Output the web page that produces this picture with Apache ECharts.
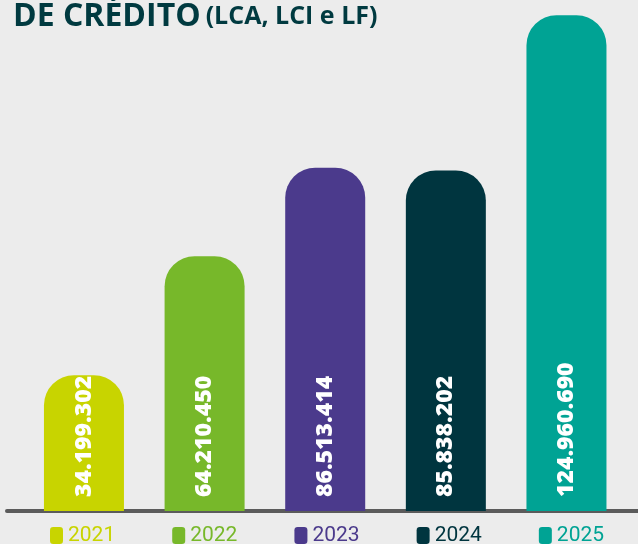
<!DOCTYPE html>
<html>
<head>
<meta charset="utf-8">
<script src="https://cdn.jsdelivr.net/npm/echarts@6/dist/echarts.min.js"></script>
<style>
  html, body { margin: 0; padding: 0; background: #ececec; }
  #chart { width: 638px; height: 544px; }
</style>
</head>
<body>
<div id="chart"></div>
<script>
// dados
const years = ["2021", "2022", "2023", "2024", "2025"];
const values = [34199302, 64210450, 86513414, 85838202, 124960690];
const colors = ["#c8d400", "#77b82a", "#4b3a8c", "#00353f", "#00a394"];

const chart = echarts.init(document.getElementById("chart"));

// formato brasileiro: 34.199.302
const fmt = (v) => String(v).replace(/\B(?=(\d{3})+(?!\d))/g, ".");

// uma série por ano para ter legenda colorida
const series = years.map((y, i) => ({
  name: y,
  type: "bar",
  stack: "all",
  barWidth: 80,
  data: [[i, values[i]]],
  itemStyle: {
    color: colors[i],
    borderRadius: [30, 30, 0, 0],
  },
  label: {
    show: true,
    position: "insideBottom",
    rotate: 90,
    align: "left",
    verticalAlign: "middle",
    distance: 14,
    color: "#fff",
    fontFamily: "Open Sans",
    fontWeight: 800,
    fontSize: 23,
    formatter: (p) => fmt(p.value[1]),
  },
}));

chart.setOption({
  backgroundColor: "#ececec",
  animation: false,
  title: {
    left: 8,
    top: -4,
    text: "{a|DE CRÉDITO} {b|(LCA, LCI e LF)}",
    textStyle: {
      rich: {
        a: { fontFamily: "Open Sans", fontWeight: "bold", fontSize: 32, color: "#003a40" },
        b: { fontFamily: "Open Sans", fontWeight: "bold", fontSize: 25, color: "#003a40" },
      },
    },
  },
  legend: {
    top: 520,
    left: 45,
    itemGap: 57,
    itemWidth: 13,
    itemHeight: 17,
    icon: "roundRect",
    data: years.map((y, i) => ({
      name: y,
      textStyle: { color: colors[i] },
    })),
    textStyle: { fontFamily: "Roboto", fontSize: 21 },
  },
  grid: { left: 7, right: 0, top: 15, bottom: 33 },
  xAxis: {
    type: "value",
    min: -0.638,
    max: 4.593,
    axisLine: { show: true, lineStyle: { color: "#5b5b5b", width: 4 } },
    axisTick: { show: false },
    axisLabel: { show: false },
    splitLine: { show: false },
  },
  yAxis: {
    type: "value",
    min: 0,
    max: 125000000,
    show: false,
  },
  series: series,
});
</script>
</body>
</html>
